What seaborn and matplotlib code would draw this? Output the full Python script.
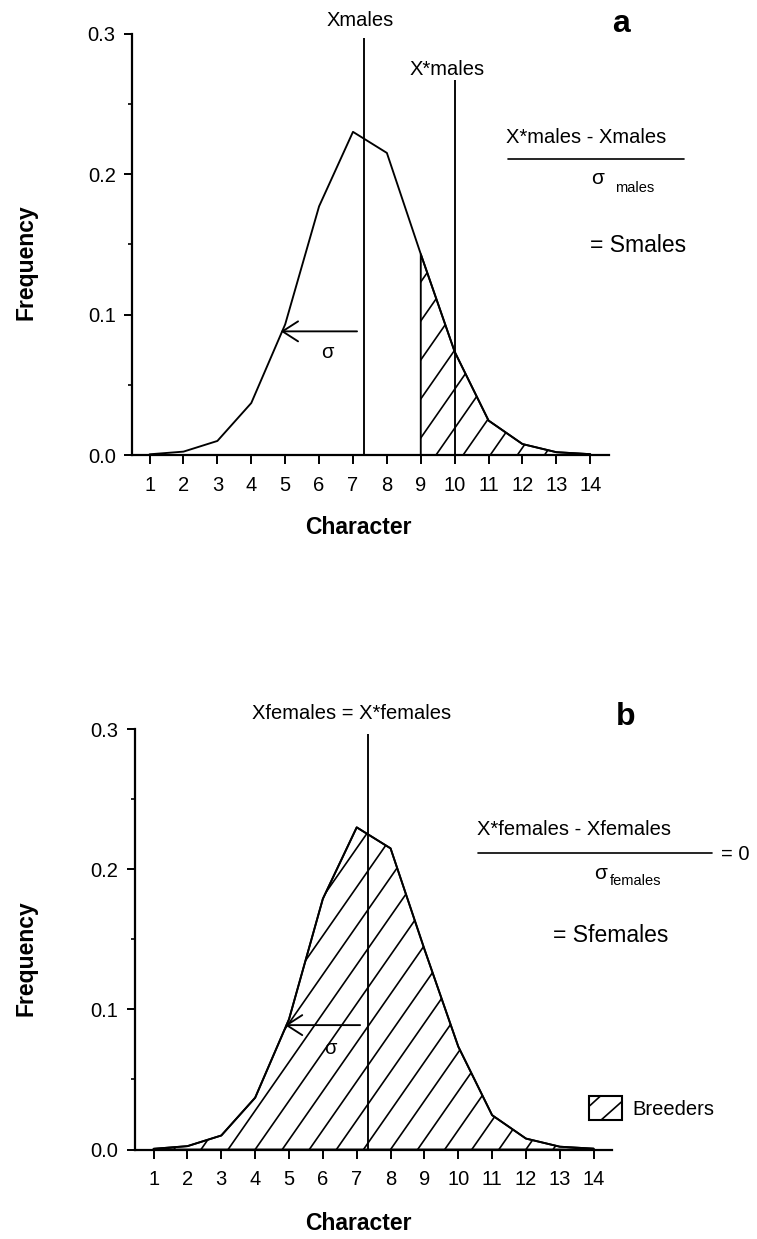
import numpy as np
import matplotlib
matplotlib.use("Agg")
import matplotlib.pyplot as plt
import seaborn as sns
from matplotlib.lines import Line2D
from matplotlib.patches import Rectangle, Patch
from matplotlib.legend_handler import HandlerBase

# ---------------- data ----------------
character = [1, 2, 3, 4, 5, 6, 7, 8, 9, 10, 11, 12, 13, 14]
freq_males = [0.0005, 0.0024, 0.0100, 0.0370, 0.0930, 0.1770, 0.2300,
              0.2150, 0.1430, 0.0735, 0.0245, 0.0078, 0.0020, 0.0006]
freq_females = [0.0005, 0.0024, 0.0100, 0.0370, 0.0930, 0.1790, 0.2300,
                0.2150, 0.1430, 0.0735, 0.0245, 0.0078, 0.0020, 0.0006]
mean_males = 7.32
selected_males = 10.0
mean_females = 7.32
breeders_start_males = 9
y_ticks = [0.0, 0.1, 0.2, 0.3]
y_ticklabels = ["0.0", "0.1", "0.2", "0.3"]

# ---------------- style ----------------
sns.set_style("ticks")
plt.rcParams["font.family"] = ["Liberation Sans", "DejaVu Sans"]
for k in ("text.color", "axes.labelcolor", "xtick.color", "ytick.color",
          "axes.edgecolor"):
    plt.rcParams[k] = "black"

W, H = 757, 1239
fig = plt.figure(figsize=(W / 100, H / 100), dpi=100)
fig.patch.set_facecolor("white")


def fx(px):
    return px / W


def fy(py):
    return 1 - py / H


LW = 1.35
HATCH_SLOPE = 0.0347   # frequency units per character unit (about 55 deg)
HATCH_STEP = 0.8


def hatch(ax, poly, start):
    path = poly.get_paths()[0]
    for c in np.arange(start, 15.5, HATCH_STEP):
        ln, = ax.plot([c, c + 0.32 / HATCH_SLOPE], [0, 0.32], color="black",
                      lw=1.2, solid_capstyle="butt")
        ln.set_clip_path(path, ax.transData)


def style_axis(ax, xlim):
    ax.set_xlim(*xlim)
    ax.set_ylim(0, 0.3)
    ax.set_xticks(character)
    ax.set_xticklabels([str(c) for c in character])
    ax.set_yticks(y_ticks)
    ax.set_yticklabels(y_ticklabels)
    ax.set_yticks([0.05, 0.15, 0.25], minor=True)
    sns.despine(ax=ax)
    for s in ("left", "bottom"):
        ax.spines[s].set_linewidth(1.6)
        ax.spines[s].set_color("black")
    ax.tick_params(axis="x", which="major", direction="out", length=6.5, width=1.4,
                   labelsize=14.5, pad=8.5, colors="black")
    ax.tick_params(axis="y", which="major", direction="out", length=6, width=1.4,
                   labelsize=14.5, pad=6, colors="black")
    ax.tick_params(axis="y", which="minor", direction="out", length=3, width=1.2,
                   colors="black")
    ax.set_facecolor("white")
    ax.grid(False)


# ================= panel a =================
ax1 = fig.add_axes([fx(132.3), fy(455), 0.6296, (455 - 33.5) / H])
sns.lineplot(x=character, y=freq_males, ax=ax1, color="black", lw=LW)
sel_x = [c for c in character if c >= breeders_start_males]
sel_y = [f for c, f in zip(character, freq_males) if c >= breeders_start_males]
poly1 = ax1.fill_between(sel_x, 0, sel_y, facecolor="none", edgecolor="black", lw=LW)
hatch(ax1, poly1, 9.45 - 8 * HATCH_STEP)
ax1.vlines(mean_males, 0, 0.297, color="black", lw=LW, clip_on=False)
ax1.vlines(selected_males, 0, 0.267, color="black", lw=LW, clip_on=False)
ax1.annotate("", xy=(4.87, 0.088), xytext=(7.12, 0.088),
             arrowprops=dict(arrowstyle="->,head_length=0.7,head_width=0.45",
                             lw=LW, color="black", mutation_scale=16,
                             shrinkA=0, shrinkB=0))
ax1.text(6.23, 0.0726, "σ", fontsize=14.5, ha="center", va="center")
style_axis(ax1, (0.49, 14.55))
ax1.set_xlabel("Character", fontsize=16.5, fontweight="bold")
ax1.xaxis.set_label_coords(0.4736, -0.171)
ax1.xaxis.label.set_va("center")
ax1.set_ylabel("Frequency", fontsize=16.5, fontweight="bold")
ax1.yaxis.set_label_coords(-0.223, 0.458)
ax1.yaxis.label.set_va("center")

fig.text(fx(326.7), fy(26), "Xmales", fontsize=14.5, ha="left", va="baseline")
fig.text(fx(410), fy(75), "X*males", fontsize=14.5, ha="left", va="baseline")
fig.text(fx(612), fy(32), "a", fontsize=23, fontweight="bold", ha="left", va="baseline")
fig.text(fx(506), fy(143.3), "X*males - Xmales", fontsize=14.5, ha="left", va="baseline")
fig.add_artist(Line2D([fx(508), fx(684)], [fy(159), fy(159)], color="black", lw=1.2))
fig.text(fx(591), fy(184), "σ", fontsize=15, ha="left", va="baseline")
fig.text(fx(615), fy(191.7), "males", fontsize=10.5, ha="left", va="baseline")
fig.text(fx(590), fy(252.3), "= Smales", fontsize=16.5, ha="left", va="baseline")

# ================= panel b =================
ax2 = fig.add_axes([fx(135), fy(1149.5), 0.6305, (1149.5 - 729.3) / H])
sns.lineplot(x=character, y=freq_females, ax=ax2, color="black", lw=LW)
poly2 = ax2.fill_between(character, 0, freq_females, facecolor="none",
                         edgecolor="black", lw=LW)
hatch(ax2, poly2, 4.0 - 5 * HATCH_STEP)
ax2.vlines(mean_females, 0, 0.297, color="black", lw=LW, clip_on=False)
ax2.annotate("", xy=(4.88, 0.0888), xytext=(7.1, 0.0888),
             arrowprops=dict(arrowstyle="->,head_length=0.7,head_width=0.45",
                             lw=LW, color="black", mutation_scale=16,
                             shrinkA=0, shrinkB=0))
ax2.text(6.21, 0.0724, "σ", fontsize=14.5, ha="center", va="center")
style_axis(ax2, (0.45, 14.55))
ax2.set_xlabel("Character", fontsize=16.5, fontweight="bold")
ax2.xaxis.set_label_coords(0.467, -0.175)
ax2.xaxis.label.set_va("center")
ax2.set_ylabel("Frequency", fontsize=16.5, fontweight="bold")
ax2.yaxis.set_label_coords(-0.228, 0.456)
ax2.yaxis.label.set_va("center")

fig.text(fx(252), fy(719.3), "Xfemales = X*females", fontsize=14.5, ha="left", va="baseline")
fig.text(fx(616), fy(725), "b", fontsize=23, fontweight="bold", ha="left", va="baseline")
fig.text(fx(477), fy(835), "X*females - Xfemales", fontsize=14.5, ha="left", va="baseline")
fig.add_artist(Line2D([fx(478), fx(712)], [fy(853.3), fy(853.3)], color="black", lw=1.2))
fig.text(fx(720.7), fy(860), "= 0", fontsize=14.5, ha="left", va="baseline")
fig.text(fx(594), fy(879.3), "σ", fontsize=15, ha="left", va="baseline")
fig.text(fx(610), fy(885), "females", fontsize=10.5, ha="left", va="baseline")
fig.text(fx(553), fy(941.7), "= Sfemales", fontsize=16.5, ha="left", va="baseline")


# ---------------- legend ----------------
class HatchBoxHandler(HandlerBase):
    def create_artists(self, legend, orig_handle, xdescent, ydescent,
                       width, height, fontsize, trans):
        x0, y0 = -xdescent, -ydescent
        rect = Rectangle((x0, y0), width, height, facecolor="white",
                         edgecolor="black", lw=1.5, transform=trans)
        l1 = Line2D([x0 + 0.03 * width, x0 + 0.33 * width],
                    [y0 + 0.6 * height, y0 + 0.97 * height],
                    color="black", lw=1.2, transform=trans)
        l2 = Line2D([x0 + 0.38 * width, x0 + 0.97 * width],
                    [y0 + 0.03 * height, y0 + 0.74 * height],
                    color="black", lw=1.2, transform=trans)
        return [rect, l1, l2]


breeders = Patch(facecolor="white", edgecolor="black", label="Breeders")
fig.legend(handles=[breeders], labels=["Breeders"],
           handler_map={Patch: HatchBoxHandler()},
           loc="center left", bbox_to_anchor=(fx(589), fy(1108)),
           frameon=False, fontsize=14.5, handlelength=1.65, handleheight=1.5,
           handletextpad=0.5, borderpad=0, borderaxespad=0)

fig.savefig("out.png", dpi=100, facecolor="white")
